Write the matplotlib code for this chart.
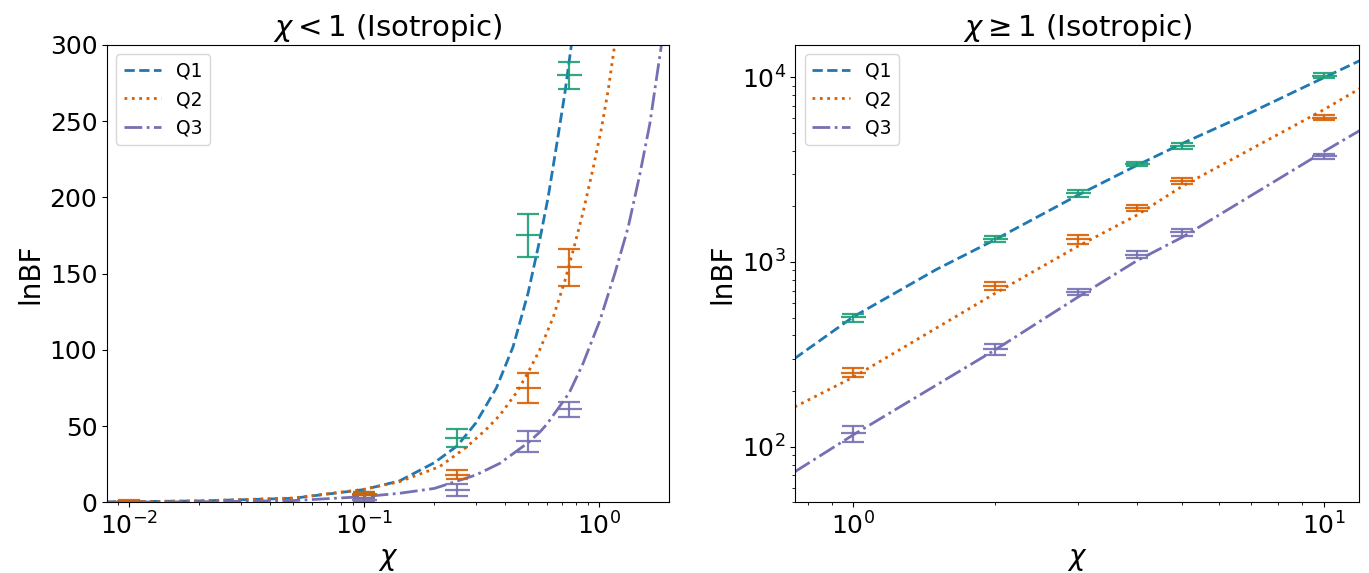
import numpy as np
import matplotlib
matplotlib.use("Agg")
import matplotlib.pyplot as plt

# ---- data ----
labels = ['Q1', 'Q2', 'Q3']

# chi < 1 : measured lnBF with errors
x_low = [0.01, 0.1, 0.25, 0.5, 0.75]
q1_low = [0.3, 5.5, 42, 175, 280]
q1_low_err = [0.3, 1, 6, 14, 9]
q2_low = [1.0, 5, 18, 75, 154]
q2_low_err = [0.5, 2, 3, 10, 12]
q3_low = [0.1, 1.5, 8, 40, 61]
q3_low_err = [0.1, 1.5, 4, 7, 5]

# chi < 1 : model curves
q1_fit_x = [0.008, 0.02, 0.05, 0.1, 0.142, 0.2, 0.25, 0.3, 0.367, 0.432, 0.5, 0.561, 0.609, 0.663, 0.717, 0.765, 0.8]
q1_fit_y = [0.25, 0.9, 2.6, 8.3, 14, 26, 37, 52, 75, 102, 137, 172, 200, 235, 268, 300, 325]
q2_fit_x = [0.008, 0.02, 0.05, 0.1, 0.142, 0.21, 0.273, 0.333, 0.379, 0.447, 0.5, 0.561, 0.639, 0.717, 0.778, 0.857, 0.946, 1.026, 1.096, 1.159, 1.2]
q2_fit_y = [0.2, 0.9, 2.8, 8.5, 13.5, 23.3, 36, 48, 57, 72, 85, 100, 121, 145, 165, 190, 219, 245, 270, 296, 311]
q3_fit_x = [0.008, 0.02, 0.05, 0.1, 0.142, 0.2, 0.3, 0.379, 0.5, 0.561, 0.6, 0.705, 0.75, 0.857, 1.01, 1.17, 1.332, 1.495, 1.648, 1.848, 1.95]
q3_fit_y = [0.1, 0.3, 1.1, 3.7, 5.9, 9.1, 17.9, 25.5, 39, 46, 51, 66, 72, 91, 119, 150, 180, 215, 248, 300, 322]

# chi >= 1 : measured lnBF with errors
x_high = [1, 2, 3, 4, 5, 10]
q1_high = [501, 1330, 2350, 3380, 4240, 10190]
q1_high_err = [25, 55, 100, 80, 140, 300]
q2_high = [252, 740, 1332, 1960, 2755, 6046]
q2_high_err = [14, 35, 75, 75, 110, 200]
q3_high = [118, 337, 690, 1097, 1446, 3730]
q3_high_err = [12, 23, 24, 50, 67, 130]

# chi >= 1 : model curves
q1_hfit_x = [0.75, 1, 1.5, 2, 3, 4, 5, 7, 10, 12]
q1_hfit_y = [300, 505, 910, 1320, 2300, 3330, 4380, 6450, 9950, 12400]
q2_hfit_x = [0.75, 1, 2, 3, 4, 5, 10, 12]
q2_hfit_y = [164, 238, 676, 1216, 1790, 2570, 6680, 8770]
q3_hfit_x = [0.75, 1, 2, 3, 4, 5, 10, 12]
q3_hfit_y = [73, 116, 334, 645, 1014, 1361, 3963, 5200]

line_colors = ['#1f77b4', '#d95f02', '#7570b3']
line_styles = ['--', ':', '-.']
point_colors = ['#1b9e77', '#d95f02', '#7570b3']

fig = plt.figure(figsize=(13.69, 5.73), dpi=100)
ax = fig.add_axes([0.0782, 0.1234, 0.4105, 0.7985])
ax1 = fig.add_axes([0.581, 0.1234, 0.412, 0.7985])

# left panel
fits_low = [(q1_fit_x, q1_fit_y), (q2_fit_x, q2_fit_y), (q3_fit_x, q3_fit_y)]
pts_low = [(q1_low, q1_low_err), (q2_low, q2_low_err), (q3_low, q3_low_err)]
for i in range(3):
    ax.plot(fits_low[i][0], fits_low[i][1], ls=line_styles[i], color=line_colors[i], lw=2, label=labels[i])
for i in range(3):
    ax.errorbar(x_low, pts_low[i][0], yerr=pts_low[i][1], fmt='_', color=point_colors[i],
                ms=18, mew=1.6, elinewidth=1.6, capsize=8, capthick=1.6, alpha=0.9)
ax.set_xscale('log')
ax.set_xlim(0.0081, 1.99)
ax.set_ylim(0, 300)
ax.set_title(r'$\chi < 1$ (Isotropic)', fontsize=21)
ax.set_xlabel(r'$\chi$', fontsize=20)
ax.set_ylabel('lnBF', fontsize=20)
ax.tick_params(labelsize=18)
ax.legend(loc='upper left', fontsize=13.5)

# right panel
fits_high = [(q1_hfit_x, q1_hfit_y), (q2_hfit_x, q2_hfit_y), (q3_hfit_x, q3_hfit_y)]
pts_high = [(q1_high, q1_high_err), (q2_high, q2_high_err), (q3_high, q3_high_err)]
for i in range(3):
    ax1.plot(fits_high[i][0], fits_high[i][1], ls=line_styles[i], color=line_colors[i], lw=2, label=labels[i])
for i in range(3):
    ax1.errorbar(x_high, pts_high[i][0], yerr=pts_high[i][1], fmt='_', color=point_colors[i],
                 ms=18, mew=1.6, elinewidth=1.6, capsize=8, capthick=1.6, alpha=0.9)
ax1.set_xscale('log')
ax1.set_yscale('log')
ax1.set_xlim(0.753, 11.9)
ax1.set_ylim(50, 15000)
ax1.set_title(r'$\chi \geq 1$ (Isotropic)', fontsize=21)
ax1.set_xlabel(r'$\chi$', fontsize=20)
ax1.set_ylabel('lnBF', fontsize=20)
ax1.tick_params(labelsize=18)
ax1.legend(loc='upper left', fontsize=13.5)

fig.savefig('out.png', dpi=100)
